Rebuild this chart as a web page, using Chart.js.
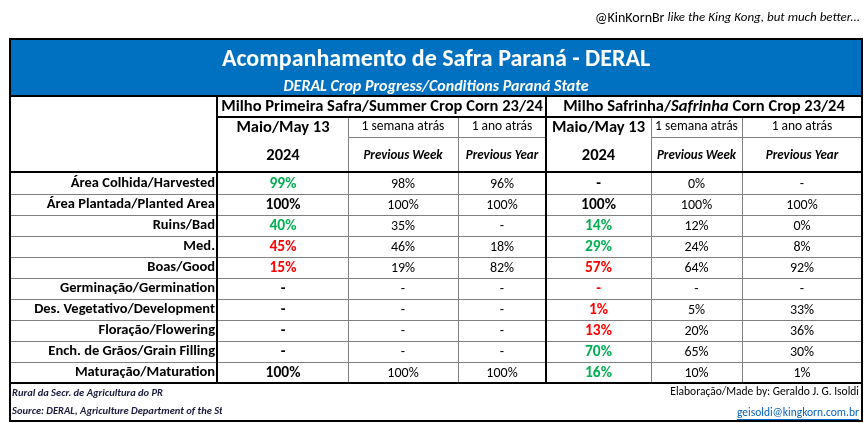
<!DOCTYPE html>
<html><head><meta charset="utf-8">
<script src="https://cdn.jsdelivr.net/npm/chart.js@4"></script>
<style>html,body{margin:0;padding:0;background:#fff;overflow:hidden}#wrap{width:868px;height:423px;position:relative}</style>
</head><body><div id="wrap"><canvas id="c"></canvas></div>
<script>
// ---------- data ----------
const rowLabels = ['Área Colhida/Harvested','Área Plantada/Planted Area','Ruins/Bad','Med.','Boas/Good','Germinação/Germination','Des. Vegetativo/Development','Floração/Flowering','Ench. de Grãos/Grain Filling','Maturação/Maturation'];
const summerCurrent = [99,100,40,45,15,null,null,null,null,100];
const summerWeek    = [98,100,35,46,19,null,null,null,null,100];
const summerYear    = [96,100,null,18,82,null,null,null,null,100];
const safrinhaCurrent = [null,100,14,29,57,null,1,13,70,16];
const safrinhaWeek    = [0,100,12,24,64,null,5,20,65,10];
const safrinhaYear    = [null,100,0,8,92,null,33,36,30,1];
const summerCurrentTone   = ['good','none','good','bad','bad','none','none','none','none','none'];
const safrinhaCurrentTone = ['none','none','good','good','bad','bad','bad','bad','good','good'];
const currentHead = ['Maio/May 13','2024'];
const weekHead = ['1 semana atrás','Previous Week'];
const yearHead = ['1 ano atrás','Previous Year'];

// ---------- layout / style ----------
const F = 'Carlito, Lato, sans-serif';
const colWidths = [130,110,88,105,91,120];
const toneColor = {good:'#00B050', bad:'#FF0000', none:'#000000'};
const GRID = '#808080';
const BLUE = '#0070C0';
const cum = [0]; colWidths.forEach(w=>cum.push(cum[cum.length-1]+w));
const centerOf = i => cum[i] + colWidths[i]/2;

function mk(values, col, current, tones){
  return {values, current, tones,
    data: values.map((v,j)=>({x:centerOf(col), y:rowLabels[j]})),
    pointRadius:0, pointHoverRadius:0, showLine:false};
}

const tablePlugin = {
  id:'table',
  beforeDraw(chart){
    const ctx = chart.ctx;
    ctx.save();
    ctx.fillStyle='#fff'; ctx.fillRect(0,0,chart.width,chart.height);
    ctx.fillStyle=BLUE; ctx.fillRect(10,39,852,57);
    ctx.restore();
  },
  afterDatasetsDraw(chart){
    const ctx = chart.ctx;
    ctx.save();
    ctx.textAlign='center'; ctx.textBaseline='middle';
    chart.data.datasets.forEach((ds,di)=>{
      chart.getDatasetMeta(di).data.forEach((el,j)=>{
        const v = ds.values[j];
        const txt = v==null ? '-' : v+'%';
        ctx.font = ds.current ? `bold 15.5px ${F}` : `14px ${F}`;
        ctx.fillStyle = ds.tones ? toneColor[ds.tones[j]] : '#000';
        ctx.fillText(txt, el.x, el.y+1);
      });
    });
    ctx.restore();
  },
  afterDraw(chart){
    const ctx = chart.ctx, x = chart.scales.x, y = chart.scales.y, ca = chart.chartArea;
    const bx = cum.map(c=>Math.round(x.getPixelForValue(c)));
    const L=10, R=862, T=39;
    const rowB = i => Math.round(y.getPixelForValue(i-0.5));
    ctx.save();
    // thin grid
    ctx.strokeStyle=GRID; ctx.lineWidth=1;
    const hl=(x1,x2,yy)=>{ctx.beginPath();ctx.moveTo(x1,yy+0.5);ctx.lineTo(x2,yy+0.5);ctx.stroke();};
    const vl=(xx,y1,y2)=>{ctx.beginPath();ctx.moveTo(xx+0.5,y1);ctx.lineTo(xx+0.5,y2);ctx.stroke();};
    for(let i=1;i<rowLabels.length;i++) hl(L,R,rowB(i));
    [1,2,4,5].forEach(k=>vl(bx[k],117,ca.bottom));
    hl(bx[1],bx[3],137); hl(bx[4],bx[6],137);
    // thick lines
    ctx.strokeStyle='#000'; ctx.lineWidth=2;
    const HL=(x1,x2,yy)=>{ctx.beginPath();ctx.moveTo(x1,yy);ctx.lineTo(x2,yy);ctx.stroke();};
    const VL=(xx,y1,y2)=>{ctx.beginPath();ctx.moveTo(xx,y1);ctx.lineTo(xx,y2);ctx.stroke();};
    HL(L,R,96); HL(bx[0],R,117); HL(L,R,172); HL(L,R,383);
    VL(bx[0]-1,96,383); VL(bx[3],96,383);
    ctx.strokeRect(L,T,R-L,421-T);
    // title
    ctx.textAlign='center'; ctx.textBaseline='middle'; ctx.fillStyle='#fff';
    ctx.font=`bold 24px ${F}`; ctx.fillText('Acompanhamento de Safra Paraná - DERAL',(L+R)/2,60);
    ctx.font=`italic bold 16px ${F}`; ctx.fillText('DERAL Crop Progress/Conditions Paraná State',(L+R)/2,87);
    // group headers
    ctx.fillStyle='#000';
    ctx.font=`bold 16.5px ${F}`;
    ctx.fillText('Milho Primeira Safra/Summer Crop Corn 23/24',(bx[0]+bx[3])/2,107,bx[3]-bx[0]-6);
    const parts=[['Milho Safrinha/','bold '],['Safrinha','italic bold '],[' Corn Crop 23/24','bold ']];
    let tw=0; parts.forEach(p=>{ctx.font=`${p[1]}16.5px ${F}`; p.w=ctx.measureText(p[0]).width; tw+=p.w;});
    let sx=(bx[3]+bx[6])/2-tw/2; ctx.textAlign='left';
    parts.forEach(p=>{ctx.font=`${p[1]}16.5px ${F}`; ctx.fillText(p[0],sx,107); sx+=p.w;});
    ctx.textAlign='center';
    [[0,currentHead,'c'],[1,weekHead,'w'],[2,yearHead,'w'],[3,currentHead,'c'],[4,weekHead,'w'],[5,yearHead,'w']].forEach(([k,h,t])=>{
      const cx=(bx[k]+bx[k+1])/2, mw=bx[k+1]-bx[k]-4;
      if(t==='c'){ctx.font=`bold 16.5px ${F}`; ctx.fillText(h[0],cx,128,mw); ctx.fillText(h[1],cx,156,mw);}
      else {ctx.font=`13.5px ${F}`; ctx.fillText(h[0],cx,127,mw); ctx.font=`italic bold 13px ${F}`; ctx.fillText(h[1],cx,156,mw);}
    });
    // top caption
    ctx.textAlign='left'; ctx.textBaseline='middle';
    const a='@KinKornBr', b=' like the King Kong, but much better...';
    ctx.font=`14px ${F}`; const wa=ctx.measureText(a).width;
    ctx.font=`italic 13px ${F}`; const wb=ctx.measureText(b).width;
    let cx0=860-wa-wb;
    ctx.font=`14px ${F}`; ctx.fillText(a,cx0,18);
    ctx.font=`italic 13px ${F}`; ctx.fillText(b,cx0+wa,18);
    // footer left (clipped)
    ctx.save(); ctx.beginPath(); ctx.rect(11,384,211,36); ctx.clip();
    ctx.fillStyle='#1a1a40'; ctx.font=`italic bold 10.5px ${F}`;
    ctx.fillText('Rural da Secr. de Agricultura do PR',12,393);
    ctx.fillText('Source: DERAL, Agriculture Department of the State of Paraná',12,411);
    ctx.restore();
    // footer right
    ctx.textAlign='right'; ctx.fillStyle='#000'; ctx.font=`11.5px ${F}`;
    ctx.fillText('Elaboração/Made by: Geraldo J. G. Isoldi',859,392);
    ctx.fillStyle='#0563C1';
    const em='geisoldi@kingkorn.com.br'; ctx.fillText(em,859,413);
    const ew=ctx.measureText(em).width;
    ctx.fillRect(859-ew,419,ew,1);
    ctx.restore();
  }
};

new Chart(document.getElementById('c'), {
  type:'scatter',
  data:{datasets:[
    mk(summerCurrent,0,true,summerCurrentTone),
    mk(summerWeek,1,false),
    mk(summerYear,2,false),
    mk(safrinhaCurrent,3,true,safrinhaCurrentTone),
    mk(safrinhaWeek,4,false),
    mk(safrinhaYear,5,false)
  ]},
  options:{
    responsive:true, maintainAspectRatio:false, animation:false, events:[], devicePixelRatio:1,
    layout:{padding:{left:11,right:6,top:173,bottom:40}},
    plugins:{legend:{display:false},tooltip:{enabled:false}},
    scales:{
      x:{type:'linear',min:0,max:cum[cum.length-1],display:false},
      y:{type:'category',labels:rowLabels,offset:true,
         grid:{display:false,drawTicks:false},border:{display:false},
         afterFit(s){s.width=207;},
         ticks:{padding:3,color:'#000',font:{family:F,size:14.5,weight:'bold'}}}
    }
  },
  plugins:[tablePlugin]
});
</script></body></html>
